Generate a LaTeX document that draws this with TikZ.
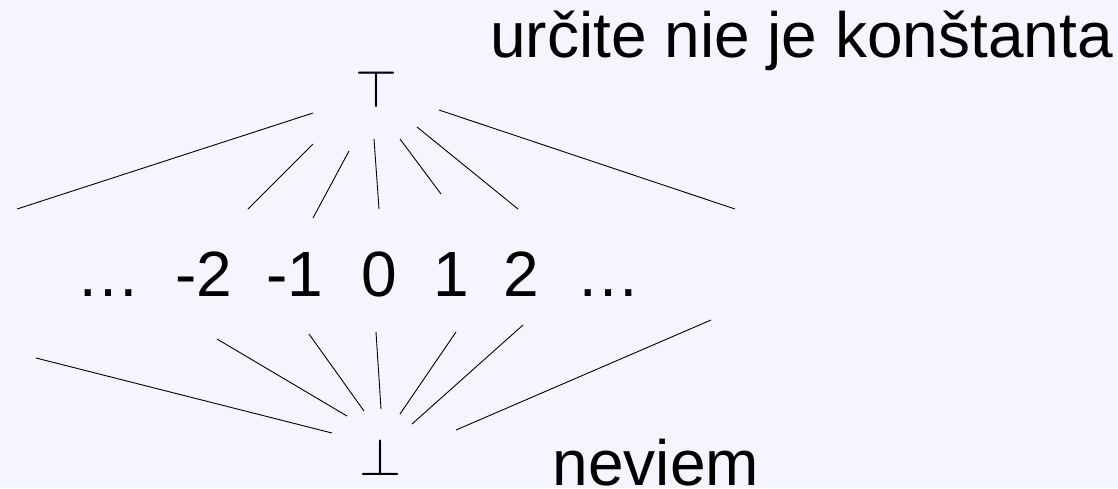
\documentclass[tikz,border=0pt]{standalone}
\usepackage{fontspec}
\setmainfont{Liberation Sans}
\definecolor{bgpale}{RGB}{244,245,255}

\begin{document}
\begin{tikzpicture}[x=1pt, y=-1pt,
  lbl/.style={inner sep=0pt, anchor=base, font=\fontsize{64}{77}\selectfont},
  note/.style={lbl, anchor=base west},
  sym/.style={inner sep=0pt, anchor=base},
  edge/.style={line width=0.9pt, black},
]
\fill[bgpale] (0,0) rectangle (1118,488);

% lattice elements
\node[sym] (top) at (376,107) {\scalebox{5.4}[5.3]{$\top$}};
\node[sym] (bot) at (380,475) {\scalebox{5.4}[5.3]{$\bot$}};
\node[lbl] (dotsl) at (108,296) {…};
\node[lbl] (mtwo)  at (204,296) {-2};
\node[lbl] (mone)  at (295,296) {-1};
\node[lbl] (zero)  at (379,296) {0};
\node[lbl] (pone)  at (451,296) {1};
\node[lbl] (ptwo)  at (521,296) {2};
\node[lbl] (dotsr) at (608,296) {…};

% what top and bottom mean
\node[note] (topnote) at (490,57) {určite nie je konštanta};
\node[note] (botnote) at (552.5,485) {neviem};

% fan below top
\foreach \i/\xa/\ya/\xb/\yb in {1/313/113/17/209, 2/313/144/248/209,
    3/349/151/313/218, 4/374/139/379/209, 5/400/139/441/194,
    6/417/127/518/209, 7/439/110/735/209} {
  \coordinate (tu\i) at (\xa,\ya);
  \coordinate (tv\i) at (\xb,\yb);
  \draw[edge] (tu\i) -- (tv\i);
}

% fan above bottom
\foreach \i/\xa/\ya/\xb/\yb in {1/36/358/332/433, 2/217/339/347/416,
    3/309/334/364/411, 4/376/332/381/409, 5/456/332/400/414,
    6/523/325/412/424, 7/711/320/456/430} {
  \coordinate (bu\i) at (\xa,\ya);
  \coordinate (bv\i) at (\xb,\yb);
  \draw[edge] (bu\i) -- (bv\i);
}
\end{tikzpicture}
\end{document}
